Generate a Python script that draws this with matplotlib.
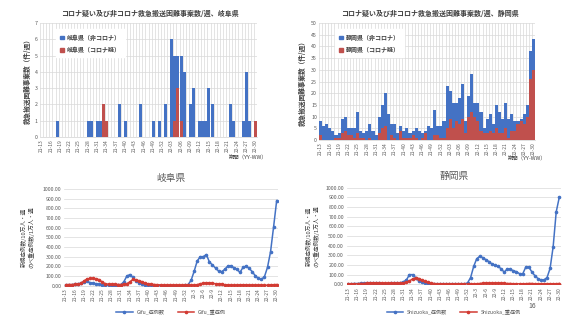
import matplotlib
matplotlib.use("Agg")
import matplotlib.pyplot as plt
from matplotlib.lines import Line2D
from matplotlib.patches import Patch

plt.rcParams['font.family'] = ['Noto Sans CJK JP', 'DejaVu Sans']

# ---------------- data ----------------
weeks_bar = [f"21-{w:02d}" for w in range(13, 53)] + [f"22-{w:02d}" for w in range(1, 31)]
weeks_line = [f"21-{w}" for w in range(13, 53)] + [f"22-{w}" for w in range(1, 31)]

gifu_non = [0, 0, 0, 0, 0, 1, 0, 0, 0, 0, 0, 0, 0, 0, 0, 1, 1, 0, 1, 1,
            0, 0, 0, 0, 0, 2, 0, 1, 0, 0, 0, 0, 2, 0, 0, 0, 1, 0, 1, 0,
            2, 0, 6, 4, 2, 4, 4, 0, 2, 3, 0, 1, 1, 1, 3, 2, 0, 0, 0, 0,
            0, 2, 1, 0, 0, 1, 4, 1, 0, 0]
gifu_sus = [0, 0, 0, 0, 0, 0, 0, 0, 0, 0, 0, 0, 0, 0, 0, 0, 0, 0, 0, 0,
            2, 1, 0, 0, 0, 0, 0, 0, 0, 0, 0, 0, 0, 0, 0, 0, 0, 0, 0, 0,
            0, 0, 0, 1, 3, 1, 0, 0, 0, 0, 0, 0, 0, 0, 0, 0, 0, 0, 0, 0,
            0, 0, 0, 0, 0, 0, 0, 0, 0, 1]

shiz_non = [6, 6, 7, 5, 4, 1, 2, 6, 6, 3, 3, 4, 9, 3, 2, 4, 6, 4, 2, 7,
            10, 14, 11, 5, 6, 3, 2, 3, 4, 2, 2, 4, 4, 2, 1, 6, 5, 11, 4, 5,
            7, 18, 12, 11, 8, 11, 15, 5, 9, 16, 6, 8, 8, 2, 6, 7, 4, 10, 9, 6,
            11, 8, 7, 4, 1, 1, 4, 5, 12, 13]
shiz_sus = [2, 0, 0, 0, 0, 1, 1, 3, 4, 2, 2, 1, 3, 1, 1, 0, 1, 0, 0, 3,
            5, 6, 0, 2, 1, 0, 4, 1, 1, 1, 2, 1, 0, 1, 3, 0, 0, 2, 2, 1,
            1, 5, 9, 5, 8, 7, 9, 3, 10, 12, 10, 8, 4, 3, 3, 4, 3, 5, 3, 3,
            5, 1, 4, 4, 7, 8, 7, 10, 26, 30]

gifu_case = [5, 8, 10, 15, 20, 25, 35, 45, 30, 25, 20, 15, 8, 5, 3, 2, 2, 3, 10, 40,
             100, 115, 85, 50, 30, 15, 8, 5, 3, 2, 2, 2, 2, 2, 2, 2, 2, 2, 2, 3,
             10, 55, 148, 255, 300, 300, 322, 245, 214, 182, 152, 145, 168, 203, 207, 186,
             169, 138, 190, 203, 180, 145, 103, 76, 65, 93, 190, 352, 610, 880]
gifu_severe = [10, 12, 12, 13, 15, 25, 50, 70, 75, 75, 72, 60, 35, 20, 15, 15, 15, 12, 12, 15,
               20, 40, 65, 60, 50, 40, 25, 18, 15, 12, 10, 8, 6, 5, 5, 5, 5, 5, 5, 5,
               5, 5, 5, 10, 20, 25, 30, 30, 25, 20, 18, 15, 10, 8, 5, 5, 5, 8, 10, 8,
               5, 5, 5, 5, 5, 5, 5, 8, 10, 12]

shiz_case = [5, 5, 8, 8, 10, 10, 15, 12, 12, 10, 10, 8, 8, 8, 10, 10, 12, 15, 25, 45,
             100, 100, 70, 35, 20, 10, 5, 3, 2, 2, 2, 2, 2, 2, 2, 2, 2, 2, 3, 15,
             70, 185, 265, 290, 275, 255, 235, 210, 195, 185, 160, 125, 160, 155, 140, 130,
             110, 105, 175, 180, 130, 90, 60, 45, 45, 70, 165, 390, 750, 900]
shiz_severe = [0, 3, 5, 5, 8, 8, 12, 15, 15, 15, 12, 12, 10, 10, 10, 10, 10, 12, 15, 20,
               35, 55, 65, 60, 45, 30, 20, 12, 8, 5, 3, 3, 3, 3, 3, 3, 3, 3, 3, 3,
               3, 3, 5, 8, 12, 12, 12, 12, 12, 12, 12, 10, 8, 8, 5, 5, 5, 5, 5, 8,
               8, 5, 5, 5, 5, 5, 5, 5, 5, 8]

BLUE = '#4472C4'
RED = '#C0504D'
LRED = '#D23B33'
GRID = '#D9D9D9'
TXT = '#595959'

fig = plt.figure(figsize=(5.69, 3.2), dpi=100)

def bar_chart(rect, non, sus, ymax, ystep, title, title_x, leg_labels, ylabel_x):
    ax = fig.add_axes(rect)
    x = list(range(len(weeks_bar)))
    ax.bar(x, sus, width=1.0, color=RED, zorder=3, linewidth=0)
    ax.bar(x, non, bottom=sus, width=1.0, color=BLUE, zorder=3, linewidth=0)
    ax.set_xlim(-0.5, len(x) - 0.5)
    ax.set_ylim(0, ymax)
    ax.set_yticks(range(0, ymax + 1, ystep))
    for b in range(len(x) + 1):
        ax.axvline(b - 0.5, color=GRID, lw=0.5, zorder=0)
    ax.grid(axis='y', color=GRID, lw=0.5, zorder=0)
    ax.set_axisbelow(True)
    ax.set_xticks(x[::3])
    ax.set_xticklabels(weeks_bar[::3], rotation=90, fontsize=3.5, color=TXT)
    ax.tick_params(axis='both', length=0, pad=1.5)
    ax.tick_params(axis='y', labelsize=3.8, labelcolor=TXT)
    for s in ['top', 'right', 'left']:
        ax.spines[s].set_visible(False)
    ax.spines['bottom'].set_color(GRID)
    ax.spines['bottom'].set_linewidth(0.6)
    fig.text(title_x, 1 - 13 / 320, title, ha='center', va='center', fontsize=5,
             fontweight='bold', color='#404040')
    fig.text(ylabel_x, rect[1] + rect[3] / 2, '救急搬送困難事案数（件/週）', rotation=90,
             ha='center', va='center', fontsize=4.8, fontweight='bold', color='#404040')
    handles = [Patch(color=BLUE), Patch(color=RED)]
    leg = ax.legend(handles, leg_labels, loc='upper left', bbox_to_anchor=(0.06, 0.97),
                    fontsize=4.3, frameon=True, handlelength=0.6, handleheight=0.6,
                    borderpad=0.7, labelspacing=0.9, handletextpad=0.5, fancybox=False)
    leg.get_frame().set_edgecolor('white')
    leg.get_frame().set_facecolor('white')
    leg.get_frame().set_alpha(1)
    for t in leg.get_texts():
        t.set_fontweight('bold')
        t.set_color('#404040')
    return ax

bar_chart([40 / 569, 1 - 137 / 320, 217 / 569, 114 / 320], gifu_non, gifu_sus, 7, 1,
          'コロナ疑い及び非コロナ救急搬送困難事案数/週、岐阜県', 150 / 569,
          ['岐阜県（非コロナ）', '岐阜県（コロナ疑）'], 27 / 569)
bar_chart([319 / 569, 1 - 140 / 320, 216 / 569, 117 / 320], shiz_non, shiz_sus, 50, 5,
          'コロナ疑い及び非コロナ救急搬送困難事案数/週、静岡県', 430 / 569,
          ['静岡県（非コロナ）', '静岡県（コロナ疑）'], 302 / 569)

fig.text(248 / 569, 1 - 157 / 320, '期間（YY-WW）', ha='center', va='center', fontsize=3.9,
         color='#404040')
fig.text(527 / 569, 1 - 158 / 320, '期間（YY-WW）', ha='center', va='center', fontsize=3.9,
         color='#404040')


def line_chart(rect, case, severe, title, labels, ylabel_x):
    ax = fig.add_axes(rect)
    x = list(range(len(weeks_line)))
    ax.plot(x, case, color=BLUE, lw=1.1, marker='o', ms=1.6, zorder=3)
    ax.plot(x, severe, color=LRED, lw=1.1, marker='o', ms=1.6, zorder=3)
    ax.set_xlim(-0.5, len(x) - 0.5)
    ax.set_ylim(0, 1000)
    ax.set_yticks(range(0, 1001, 100))
    ax.set_yticklabels([f"{v:.2f}" for v in range(0, 1001, 100)], fontsize=3.7, color=TXT)
    ax.grid(axis='y', color=GRID, lw=0.5, zorder=0)
    ax.set_xticks(x[::3])
    ax.set_xticklabels(weeks_line[::3], rotation=90, fontsize=3.5, color=TXT)
    ax.tick_params(axis='both', length=0, pad=2)
    for s in ['top', 'right', 'left']:
        ax.spines[s].set_visible(False)
    ax.spines['bottom'].set_color(GRID)
    ax.spines['bottom'].set_linewidth(0.6)
    ax.set_title(title, fontsize=7, color=TXT, pad=6)
    fig.text(ylabel_x, rect[1] + rect[3] / 2, '新規症例数/10万人・週\nのべ重症例数/1万人・週',
             rotation=90, ha='center', va='center', fontsize=4.1, color='#404040',
             linespacing=1.3)
    handles = [Line2D([], [], color=BLUE, lw=1.1, marker='o', ms=1.6),
               Line2D([], [], color=LRED, lw=1.1, marker='o', ms=1.6)]
    leg = ax.legend(handles, labels, loc='center',
                    bbox_to_anchor=(rect[0] + rect[2] / 2, 1 - 312 / 320),
                    bbox_transform=fig.transFigure,
                    fontsize=3.7, frameon=False, ncol=2, handlelength=3.2, columnspacing=2.5)
    for t in leg.get_texts():
        t.set_color(TXT)
    return ax

line_chart([64.2 / 569, 1 - 285.7 / 320, 214 / 569, 96.7 / 320], gifu_case, gifu_severe,
           '岐阜県', ['Gifu_症例数', 'Gifu_重症例'], 28 / 569)
line_chart([346.8 / 569, 1 - 284.3 / 320, 214 / 569, 96.6 / 320], shiz_case, shiz_severe,
           '静岡県', ['Shizuoka_症例数', 'Shizuoka_重症例'], 313 / 569)

fig.text(532 / 569, 1 - 306 / 320, '16', ha='center', va='center', fontsize=5, color=TXT)

fig.savefig('out.png', dpi=100)
